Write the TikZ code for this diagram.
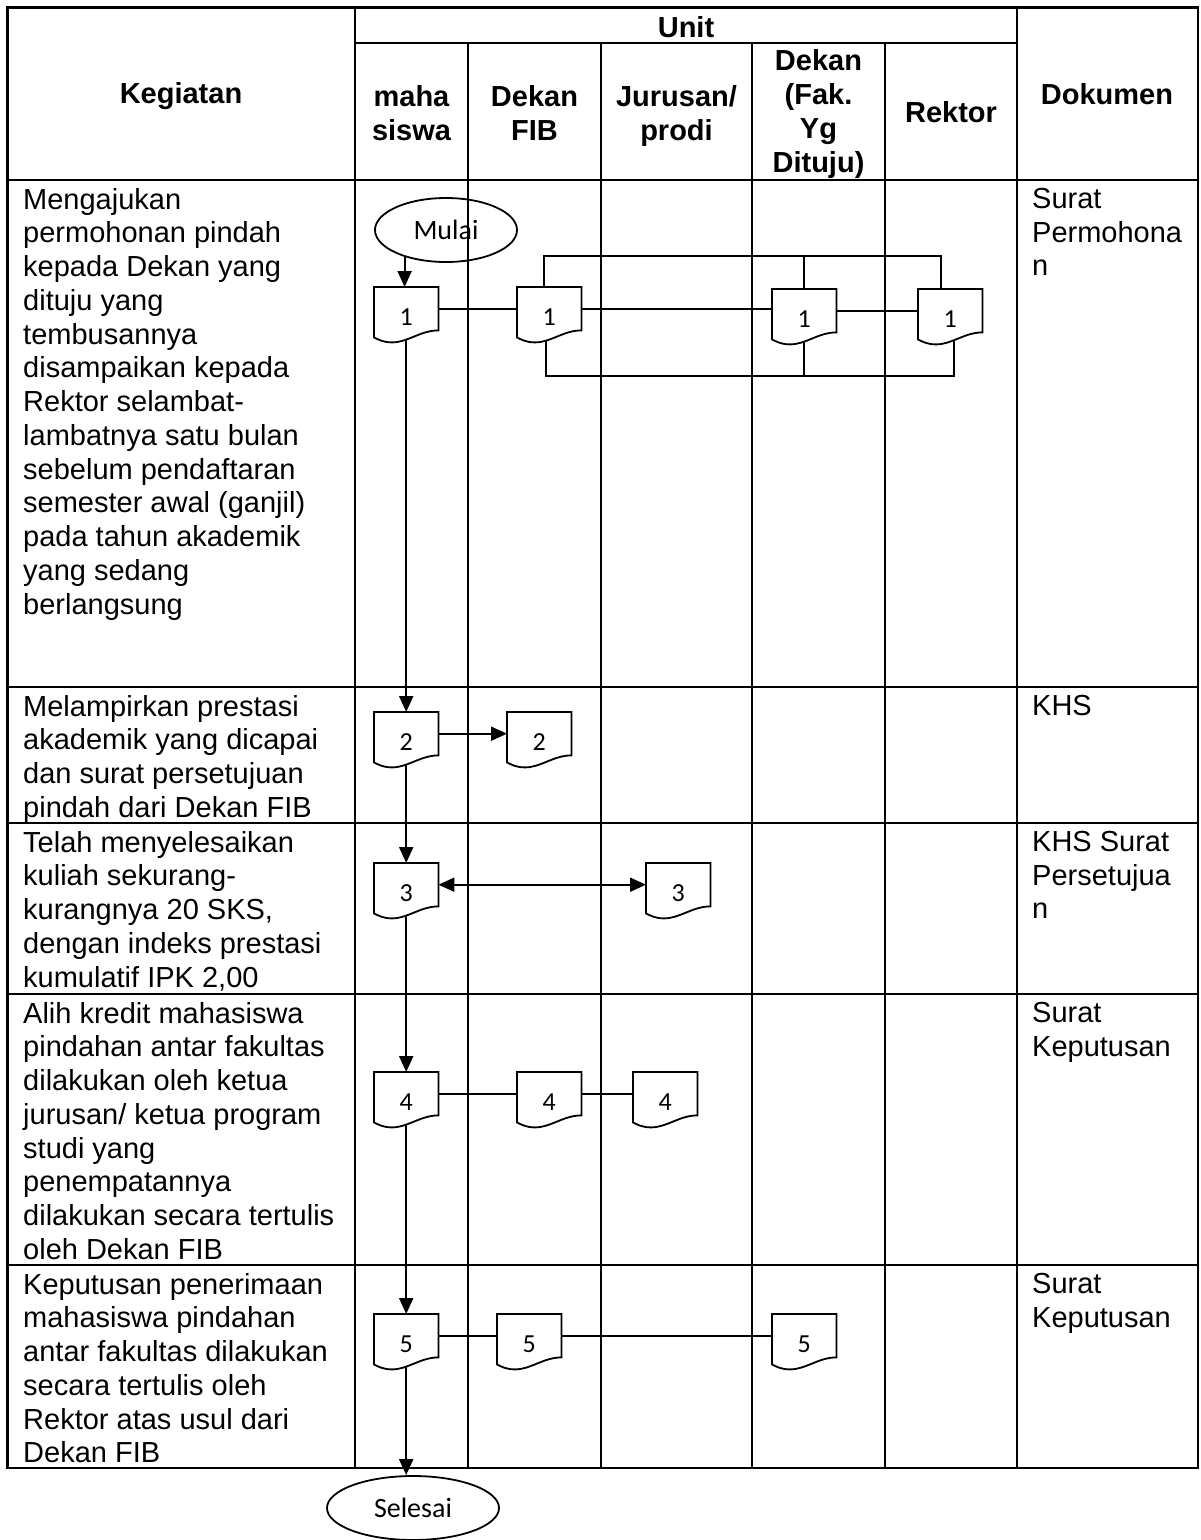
\documentclass[tikz,border=0pt]{standalone}
\usepackage{fontspec}
\setmainfont{Liberation Sans}
\newfontfamily\calib{Carlito}
\usetikzlibrary{shapes.geometric,arrows.meta,calc}

\newcommand\mkdoc[4]{%
  \node[docbox] (#1) at (#2,#3) {};
  \draw[docline] (#1.north west) -- (#1.north east) -- (#1.south east)
     .. controls ($(#1.south east)+(-18,0)$) and ($(#1.south west)+(34,12)$) .. ($(#1.south west)+(18,12)$)
     .. controls ($(#1.south west)+(9,12)$) and ($(#1.south west)+(4,9)$) .. ($(#1.south west)+(0,7)$) -- cycle;
  \node[digit] (#1n) at ($(#1.center)+(0,8.5)$) {#4};
}

\begin{document}
\begin{tikzpicture}[x=1pt,y=-1pt,
  tbl/.style={line width=2.6pt, line cap=rect},
  lbl/.style={font=\fontsize{29}{33.75}\selectfont, align=left, anchor=north west, inner sep=0pt},
  hdr/.style={font=\fontsize{29}{33.75}\selectfont\bfseries, align=center, inner sep=0pt},
  docbox/.style={minimum width=64pt, minimum height=43pt, inner sep=0pt, anchor=north west},
  docline/.style={line width=1.8pt, line join=miter},
  digit/.style={font=\calib\fontsize{26}{26}\selectfont, inner sep=0pt},
  term/.style={ellipse, draw, line width=1.8pt, font=\calib\fontsize{28}{28}\selectfont, inner sep=0pt},
  link/.style={line width=1.8pt},
  arr/.style={line width=2pt, -{Triangle[length=16pt,width=14pt]}},
  darr/.style={line width=2pt, {Triangle[length=16pt,width=14pt]}-{Triangle[length=16pt,width=14pt]}}
]
\useasboundingbox (0,0) rectangle (1201,1540);

% ---- table ----
\draw[tbl] (7.5,7.5) rectangle (1198,1468);
\draw[tbl] (355,7.5) -- (355,1468);
\draw[tbl] (1017,7.5) -- (1017,1468);
\draw[tbl] (355,43) -- (1017,43);
\foreach \xx in {468,601,752,885} \draw[tbl] (\xx,43) -- (\xx,1468);
\foreach \yy in {180,687,823,994,1265} \draw[tbl] (7.5,\yy) -- (1198,\yy);

% ---- header ----
\node[hdr, anchor=base] (hKeg) at (181,103) {Kegiatan};
\node[hdr, anchor=base] (hUnit) at (686,37) {Unit};
\node[hdr, anchor=base] (hDok) at (1107,104) {Dokumen};
\node[hdr] (hMhs) at (411.5,113) {maha\\siswa};
\node[hdr] (hFib) at (534.5,113) {Dekan\\FIB};
\node[hdr] (hJur) at (676.5,116) {Jurusan/\\prodi};
\node[hdr] (hDft) at (818.5,114) {Dekan\\(Fak.\\Yg\\Dituju)};
\node[hdr, anchor=base] (hRek) at (951,122) {Rektor};

% ---- kegiatan ----
\node[lbl] (k1) at (23,188) {Mengajukan\\permohonan pindah\\kepada Dekan yang\\dituju yang\\tembusannya\\disampaikan kepada\\Rektor selambat-\\lambatnya satu bulan\\sebelum pendaftaran\\semester awal (ganjil)\\pada tahun akademik\\yang sedang\\berlangsung};
\node[lbl] (k2) at (23,695) {Melampirkan prestasi\\akademik yang dicapai\\dan surat persetujuan\\pindah dari Dekan FIB};
\node[lbl] (k3) at (23,831) {Telah menyelesaikan\\kuliah sekurang-\\kurangnya 20 SKS,\\dengan indeks prestasi\\kumulatif IPK 2,00};
\node[lbl] (k4) at (23,1002) {Alih kredit mahasiswa\\pindahan antar fakultas\\dilakukan oleh ketua\\jurusan/ ketua program\\studi yang\\penempatannya\\dilakukan secara tertulis\\oleh Dekan FIB};
\node[lbl] (k5) at (23,1273) {Keputusan penerimaan\\mahasiswa pindahan\\antar fakultas dilakukan\\secara tertulis oleh\\Rektor atas usul dari\\Dekan FIB};

% ---- dokumen ----
\node[lbl] (o1) at (1032,188) {Surat\\Permohona\\n};
\node[lbl] (o2) at (1032,695) {KHS};
\node[lbl] (o3) at (1032,831) {KHS Surat\\Persetujua\\n};
\node[lbl] (o4) at (1032,1002) {Surat\\Keputusan};
\node[lbl] (o5) at (1032,1273) {Surat\\Keputusan};

% ---- flow shapes ----
\node[term, minimum width=142pt, minimum height=64pt] (mulai) at (446,230) {Mulai};
\node[term, minimum width=172pt, minimum height=64pt] (selesai) at (413,1508) {Selesai};

\mkdoc{d1a}{374}{287}{1}
\mkdoc{d1b}{517}{287}{1}
\mkdoc{d1c}{772}{289}{1}
\mkdoc{d1d}{918}{289}{1}
\mkdoc{d2a}{374}{712}{2}
\mkdoc{d2b}{507}{712}{2}
\mkdoc{d3a}{374}{863}{3}
\mkdoc{d3b}{646}{863}{3}
\mkdoc{d4a}{374}{1072}{4}
\mkdoc{d4b}{517}{1072}{4}
\mkdoc{d4c}{633}{1072}{4}
\mkdoc{d5a}{374}{1314}{5}
\mkdoc{d5b}{497}{1314}{5}
\mkdoc{d5c}{772}{1314}{5}

% ---- connectors ----
\draw[arr] (mulai.213) -- (mulai.213 |- d1a.north);
\draw[link] (d1a.east) -- (d1b.west);
\draw[link] (d1b.east) -- (d1b.east -| d1c.west);
\draw[link] (d1c.east) -- (d1d.west);
\coordinate (topbar) at (700,256);
\coordinate (botbar) at (700,376);
\draw[link] ($(d1b.north)+(-5,0)$) |- (topbar) -| ($(d1d.north)+(-9,0)$);
\draw[link] (d1c.north |- topbar) -- (d1c.north);
\draw[link] ($(d1b.south)+(-3,10)$) |- (botbar) -| ($(d1d.south)+(4,8)$);
\draw[link] ($(d1c.south)+(0,9.5)$) -- (d1c.south |- botbar);

\draw[arr] ($(d1a.south)+(0,9.5)$) -- (d2a.north);
\draw[arr] ($(d2a.south)+(0,9.5)$) -- (d3a.north);
\draw[arr] ($(d3a.south)+(0,9.5)$) -- (d4a.north);
\draw[arr] ($(d4a.south)+(0,9.5)$) -- (d5a.north);
\draw[arr] ($(d5a.south)+(0,9.5)$) -- (d5a.south |- selesai.north);

\draw[arr] (d2a.east) -- (d2b.west);
\draw[darr] (d3a.east) -- (d3b.west);
\draw[link] (d4a.east) -- (d4b.west);
\draw[link] (d4b.east) -- (d4c.west);
\draw[link] (d5a.east) -- (d5b.west);
\draw[link] (d5b.east) -- (d5c.west);
\end{tikzpicture}
\end{document}
